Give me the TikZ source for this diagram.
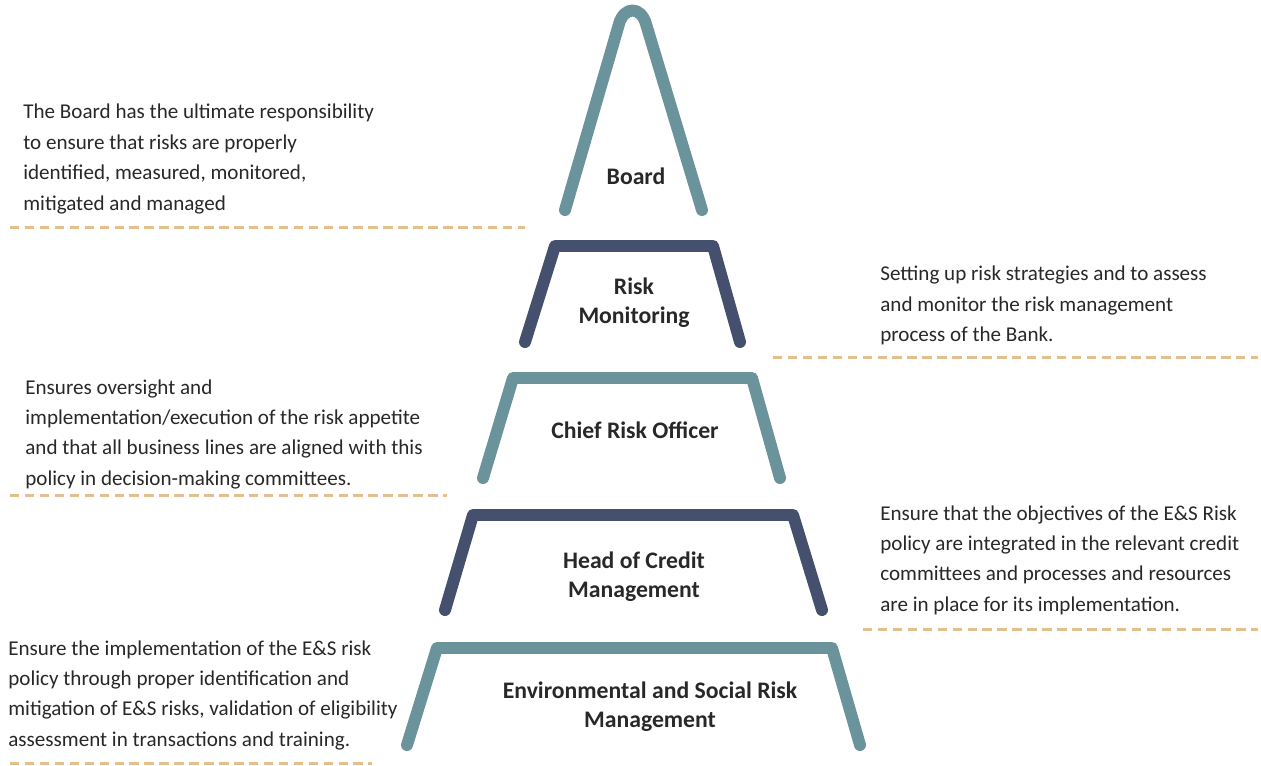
\documentclass[tikz,border=0pt]{standalone}
\usepackage{fontspec}
\setmainfont{Carlito}
\usepackage{xcolor}
\definecolor{tealish}{RGB}{106,147,155}
\definecolor{navy}{RGB}{69,79,110}
\definecolor{sand}{RGB}{228,190,141}
\definecolor{ink}{RGB}{40,40,40}

\begin{document}
\begin{tikzpicture}[x=0.02cm,y=-0.02cm,
  tier/.style={line width=6.8pt,line cap=round,line join=round},
  sep/.style={sand,line width=1.7pt,dash pattern=on 5.4pt off 3.1pt},
  desc/.style={anchor=north west,align=left,inner sep=0pt,text=ink,font=\fontsize{12}{17.3}\selectfont},
  title/.style={align=center,inner sep=0pt,text=ink,font=\fontsize{13.5}{16.4}\selectfont\bfseries}]
  \useasboundingbox (0,0) rectangle (1261,765);
  % the five tiers, top to bottom
  \draw[tier,tealish] (565,210) -- (619,24) .. controls (624,6) and (641,6) .. (646,24) -- (702,210);
  \draw[tier,navy] (525,342) -- (555,246) -- (713,246) -- (740,342);
  \draw[tier,tealish] (483,478) -- (513,378) -- (752,378) -- (780,478);
  \draw[tier,navy] (445,610) -- (473,515) -- (793,515) -- (822,610);
  \draw[tier,tealish] (407,745) -- (437,648) -- (832,648) -- (860,745);

  \node[title] (board) at (636,176) {Board};
  \node[title] (monitor) at (634,303) {Risk\\Monitoring};
  \node[title] (cro) at (635,430) {Chief Risk Officer};
  \node[title] (credit) at (634,577) {Head of Credit\\Management};
  \node[title] (esrm) at (650,707) {Environmental and Social Risk\\Management};

  \node[desc] (boardtxt) at (23,104) {The Board has the ultimate responsibility\\to ensure that risks are properly\\identified, measured, monitored,\\mitigated and managed};
  \node[desc] (monitortxt) at (880,266) {Setting up risk strategies and to assess\\and monitor the risk management\\process of the Bank.};
  \node[desc] (crotxt) at (25,379) {Ensures oversight and\\implementation/execution of the risk appetite\\and that all business lines are aligned with this\\policy in decision-making committees.};
  \node[desc] (credittxt) at (880,505) {Ensure that the objectives of the E\&S Risk\\policy are integrated in the relevant credit\\committees and processes and resources\\are in place for its implementation.};
  \node[desc] (esrmtxt) at (8,640) {Ensure the implementation of the E\&S risk\\policy through proper identification and\\mitigation of E\&S risks, validation of eligibility\\assessment in transactions and training.};

  \draw[sep] (10,227) -- (525,227);
  \draw[sep] (773,357) -- (1258,357);
  \draw[sep] (10,495) -- (447,495);
  \draw[sep] (863,629) -- (1258,629);
  \draw[sep] (10,763) -- (372,763);
\end{tikzpicture}
\end{document}
